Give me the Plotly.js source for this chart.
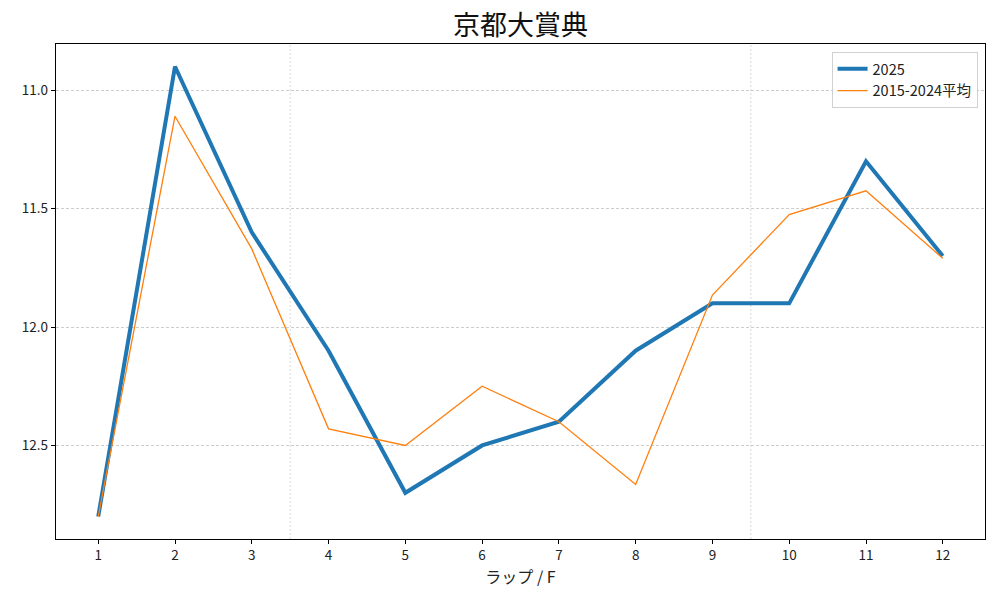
<!DOCTYPE html>
<html>
<head>
<meta charset="utf-8">
<script src="https://cdn.plot.ly/plotly-3.0.1.min.js"></script>
<style>
  html, body { margin: 0; padding: 0; background: #fff; }
  #chart { width: 1000px; height: 600px; }
</style>
</head>
<body>
<div id="chart"></div>
<script>
// Data
const laps = [1, 2, 3, 4, 5, 6, 7, 8, 9, 10, 11, 12];
const lap2025 = [12.8, 10.9, 11.6, 12.1, 12.7, 12.5, 12.4, 12.1, 11.9, 11.9, 11.3, 11.7];
const lapAvg = [12.8, 11.11, 11.67, 12.43, 12.5, 12.25, 12.4, 12.665, 11.865, 11.525, 11.425, 11.71];
const seriesNames = ['2025', '2015-2024平均'];
const sectionBreaks = [3.5, 9.5];

const font = '"Noto Sans CJK JP", "Noto Sans", sans-serif';

const traces = [
  {
    x: laps, y: lap2025, name: seriesNames[0],
    type: 'scatter', mode: 'lines',
    line: { color: '#1f77b4', width: 4 }
  },
  {
    x: laps, y: lapAvg, name: seriesNames[1],
    type: 'scatter', mode: 'lines',
    line: { color: '#ff7f0e', width: 1.3 }
  }
];

// dotted separators between sections
const shapes = sectionBreaks.map(v => ({
  type: 'line', xref: 'x', yref: 'paper',
  x0: v, x1: v, y0: 0, y1: 1,
  line: { color: '#c8c8c8', width: 0.7, dash: '2px,2px' },
  layer: 'below'
}));

const layout = {
  width: 1000, height: 600,
  margin: { l: 56, r: 15, t: 44, b: 61 },
  paper_bgcolor: '#fff', plot_bgcolor: '#fff',
  font: { family: font, size: 13.5, color: '#222' },
  title: {
    text: '京都大賞典',
    font: { family: font, size: 27, color: '#111' },
    x: 0.5, xref: 'paper', xanchor: 'center',
    y: 0.957, yanchor: 'middle'
  },
  xaxis: {
    range: [0.45, 12.55],
    tickvals: laps,
    ticks: 'outside', ticklen: 4, tickcolor: '#000',
    showgrid: false, zeroline: false,
    showline: true, linecolor: '#000', linewidth: 1.2, mirror: true,
    title: { text: 'ラップ / F', font: { family: font, size: 16 }, standoff: 6 }
  },
  yaxis: {
    range: [12.895, 10.805],
    tickvals: [11.0, 11.5, 12.0, 12.5],
    ticktext: ['11.0', '11.5', '12.0', '12.5'],
    ticks: 'outside', ticklen: 4, tickcolor: '#000',
    showgrid: true, gridcolor: '#b8b8b8', gridwidth: 0.7, griddash: '3px,2px',
    zeroline: false,
    showline: true, linecolor: '#000', linewidth: 1.2, mirror: true
  },
  legend: {
    x: 0.992, y: 0.984, xanchor: 'right', yanchor: 'top',
    bgcolor: 'rgba(255,255,255,0.85)', bordercolor: '#d0d0d0', borderwidth: 1,
    font: { family: font, size: 14.5, color: '#222' },
    tracegroupgap: 2
  },
  shapes: shapes,
  showlegend: true
};

Plotly.newPlot('chart', traces, layout, { displayModeBar: false, staticPlot: true });
</script>
</body>
</html>
